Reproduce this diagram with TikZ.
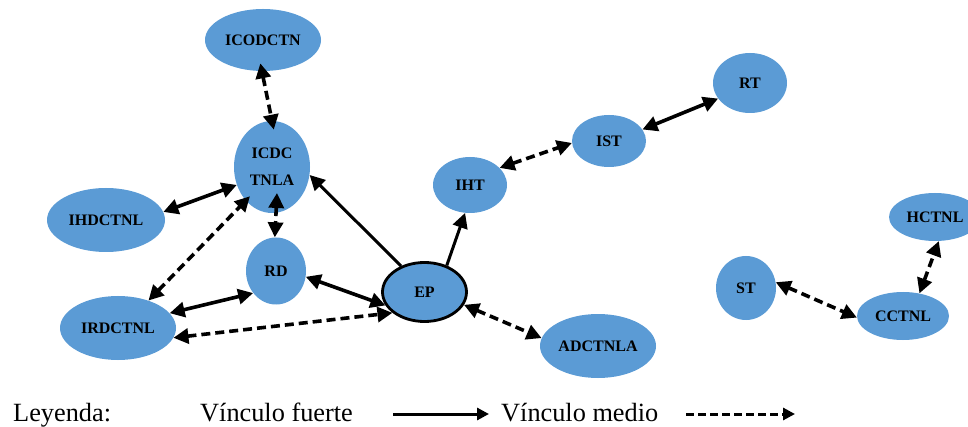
\documentclass[tikz,border=0pt]{standalone}
\usepackage{fontspec}
\setmainfont{Liberation Serif}
\usetikzlibrary{arrows.meta,shapes.geometric}
\definecolor{nodeblue}{HTML}{5B9BD5}
\tikzset{
  ent/.style={ellipse, fill=nodeblue, inner sep=0pt, align=center,
    font=\bfseries\fontsize{16}{27}\selectfont},
  strong/.style={line width=3.6pt, {Triangle[length=15pt,width=15pt]}-{Triangle[length=15pt,width=15pt]}},
  medium/.style={strong, dash pattern=on 9pt off 5pt},
  oneway/.style={line width=3pt, -{Triangle[length=15pt,width=15pt]}},
  legtext/.style={anchor=base west, inner sep=0pt, font=\fontsize{26.3}{30}\selectfont},
}
\begin{document}
\begin{tikzpicture}[x=1pt,y=-1pt]
\useasboundingbox (0,0) rectangle (968,427);

% entities
\node[ent, minimum width=116pt, minimum height=62pt] (icod) at (263,40) {ICODCTN};
\node[ent, minimum width=76pt, minimum height=92pt] (icdc) at (272,167) {ICDC\\TNLA};
\node[ent, minimum width=118pt, minimum height=64pt] (ihd) at (106,220) {IHDCTNL};
\node[ent, minimum width=60pt, minimum height=67pt] (rd) at (276,271) {RD};
\node[ent, minimum width=116pt, minimum height=64pt] (irl) at (118,328) {IRDCTNL};
\node[ent, draw=black, line width=2.8pt, minimum width=84pt, minimum height=59pt] (ep) at (424.5,292) {EP};
\node[ent, minimum width=74pt, minimum height=56pt] (iht) at (470,185) {IHT};
\node[ent, minimum width=74pt, minimum height=52pt] (ist) at (609,141) {IST};
\node[ent, minimum width=74pt, minimum height=60pt] (rt) at (750,83) {RT};
\node[ent, minimum width=116pt, minimum height=64pt] (adc) at (598,346) {ADCTNLA};
\node[ent, minimum width=60pt, minimum height=64pt] (st) at (746,288) {ST};
\node[ent, minimum width=92pt, minimum height=48pt] (cct) at (903,316) {CCTNL};
\node[ent, minimum width=92pt, minimum height=48pt] (hct) at (935,217) {HCTNL};

% links
\draw[medium, shorten <=-8pt, shorten >=-9pt] (icod.268) -- (icdc.90);
\draw[strong] (ihd.8) -- (icdc.207);
\draw[medium, shorten >=-6pt] (irl.42) -- (icdc.232);
\draw[medium, shorten <=-20pt] (icdc.275) -- (rd.92);
\draw[oneway] (ep.132) -- (icdc.348);
\draw[oneway] (ep.50) -- (iht.260);
\draw[strong] (rd.349) -- (ep.199);
\draw[strong] (irl.16) -- (rd.224);
\draw[medium] (irl.350) -- (ep.213);
\draw[medium] (ep.342) -- (adc.172);
\draw[medium] (iht.30) -- (ist.183);
\draw[strong] (ist.19) -- (rt.206);
\draw[medium] (st.11) -- (cct.182);
\draw[medium] (cct.54) -- (hct.279);

% legend
\node[legtext] (ley) at (13,421) {Leyenda:};
\node[legtext] (vf) at (200,421) {Vínculo fuerte};
\node[legtext] (vm) at (501,421) {Vínculo medio};
\coordinate (fs) at (393,414);
\coordinate (fe) at (489,414);
\coordinate (ms) at (686,414);
\coordinate (me) at (795,414);
\draw[line width=3pt, -{Triangle[length=12pt,width=12pt]}] (fs) -- (fe);
\draw[line width=3pt, dash pattern=on 8pt off 4pt, -{Triangle[length=12pt,width=12pt]}] (ms) -- (me);
\end{tikzpicture}
\end{document}
